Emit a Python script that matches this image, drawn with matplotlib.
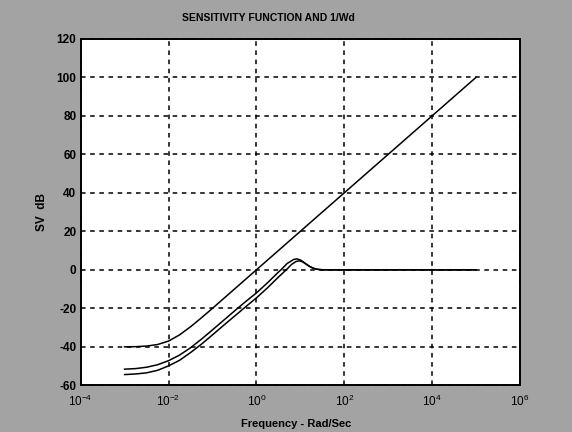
import matplotlib
matplotlib.use("Agg")
import matplotlib.pyplot as plt
import numpy as np

# ---- data (log10 frequency, dB) ----
wd_logw = [-3.0, -2.75, -2.5, -2.25, -2.0, -1.75, -1.5, -1.25, -1.0, 0.0, 1.0, 2.0, 3.0, 4.0, 5.0]
wd_db   = [-40.0, -39.9, -39.6, -38.8, -37.0, -33.8, -29.6, -24.9, -20.0, 0.0, 20.0, 40.0, 60.0, 80.0, 100.0]

s1_logw = [-3.0, -2.75, -2.5, -2.25, -2.0, -1.75, -1.5, -1.25, -1.0, -0.75, -0.5, -0.25, 0.0,
           0.25, 0.5, 0.56, 0.7, 0.85, 0.92, 1.0, 1.1, 1.2, 1.3, 1.4, 1.5, 1.7, 5.0]
s1_db   = [-51.6, -51.3, -50.6, -49.3, -47.2, -44.3, -40.5, -36.0, -31.2, -26.3, -21.4, -16.6, -12.0,
           -6.8, -1.2, 0.0, 3.3, 5.4, 5.7, 5.2, 3.6, 1.9, 0.8, 0.25, 0.05, 0.0, 0.0]

s2_logw = [-3.0, -2.75, -2.5, -2.25, -2.0, -1.75, -1.5, -1.25, -1.0, -0.75, -0.5, -0.25, 0.0,
           0.25, 0.5, 0.68, 0.8, 0.9, 0.97, 1.05, 1.15, 1.25, 1.35, 1.45, 1.6, 5.0]
s2_db   = [-54.4, -54.1, -53.5, -52.2, -49.9, -47.0, -43.0, -38.6, -33.8, -28.9, -24.1, -19.3, -14.6,
           -9.4, -3.8, 0.0, 2.8, 4.3, 4.7, 4.2, 2.7, 1.3, 0.45, 0.1, 0.0, 0.0]

x_ticks = [1e-4, 1e-2, 1e0, 1e2, 1e4, 1e6]
x_ticklabels = [r"$10^{-4}$", r"$10^{-2}$", r"$10^{0}$", r"$10^{2}$", r"$10^{4}$", r"$10^{6}$"]
y_ticks = [-60, -40, -20, 0, 20, 40, 60, 80, 100, 120]

title_text = "SENSITIVITY FUNCTION AND 1/Wd"
xlabel_text = "Frequency - Rad/Sec"
ylabel_text = "SV  dB"

plt.rcParams['font.family'] = ['Liberation Sans Narrow', 'Liberation Sans', 'DejaVu Sans']
plt.rcParams['mathtext.fontset'] = 'custom'
plt.rcParams['mathtext.rm'] = 'Liberation Sans'
plt.rcParams['mathtext.it'] = 'Liberation Sans'

fig = plt.figure(figsize=(5.72, 4.32), dpi=100, facecolor='#a3a3a3')
ax = fig.add_axes([0.141, 0.108, 0.768, 0.802])
ax.set_facecolor('white')

ax.plot(10 ** np.array(wd_logw), wd_db, color='black', lw=1.1)
ax.plot(10 ** np.array(s1_logw), s1_db, color='black', lw=1.1)
ax.plot(10 ** np.array(s2_logw), s2_db, color='black', lw=1.1)

ax.set_xscale('log')
ax.set_xlim(1e-4, 1e6)
ax.set_ylim(-60, 120)
ax.set_xticks(x_ticks)
ax.set_xticklabels(x_ticklabels)
ax.minorticks_off()
ax.set_yticks(y_ticks)
ax.set_yticklabels([str(v) for v in y_ticks])

ax.grid(True, which='major', color='black', linestyle=(0, (3, 3)), linewidth=1.1)
for sp in ax.spines.values():
    sp.set_linewidth(1.4)
    sp.set_color('black')

ax.tick_params(axis='both', direction='in', length=0, labelsize=8.5, colors='black')
ax.tick_params(axis='y', pad=3)
ax.tick_params(axis='x', pad=6)
for lab in ax.get_yticklabels() + ax.get_xticklabels():
    lab.set_fontweight('bold')

fig.text(0.47, 0.958, title_text, ha='center', va='center', fontsize=7.5, fontweight='bold')
fig.text(0.518, 0.018, xlabel_text, ha='center', va='center', fontsize=8, fontweight='bold')
fig.text(0.073, 0.51, ylabel_text, ha='center', va='center', fontsize=8.5, fontweight='bold', rotation=90)

fig.savefig('out.png', dpi=100, facecolor=fig.get_facecolor())
